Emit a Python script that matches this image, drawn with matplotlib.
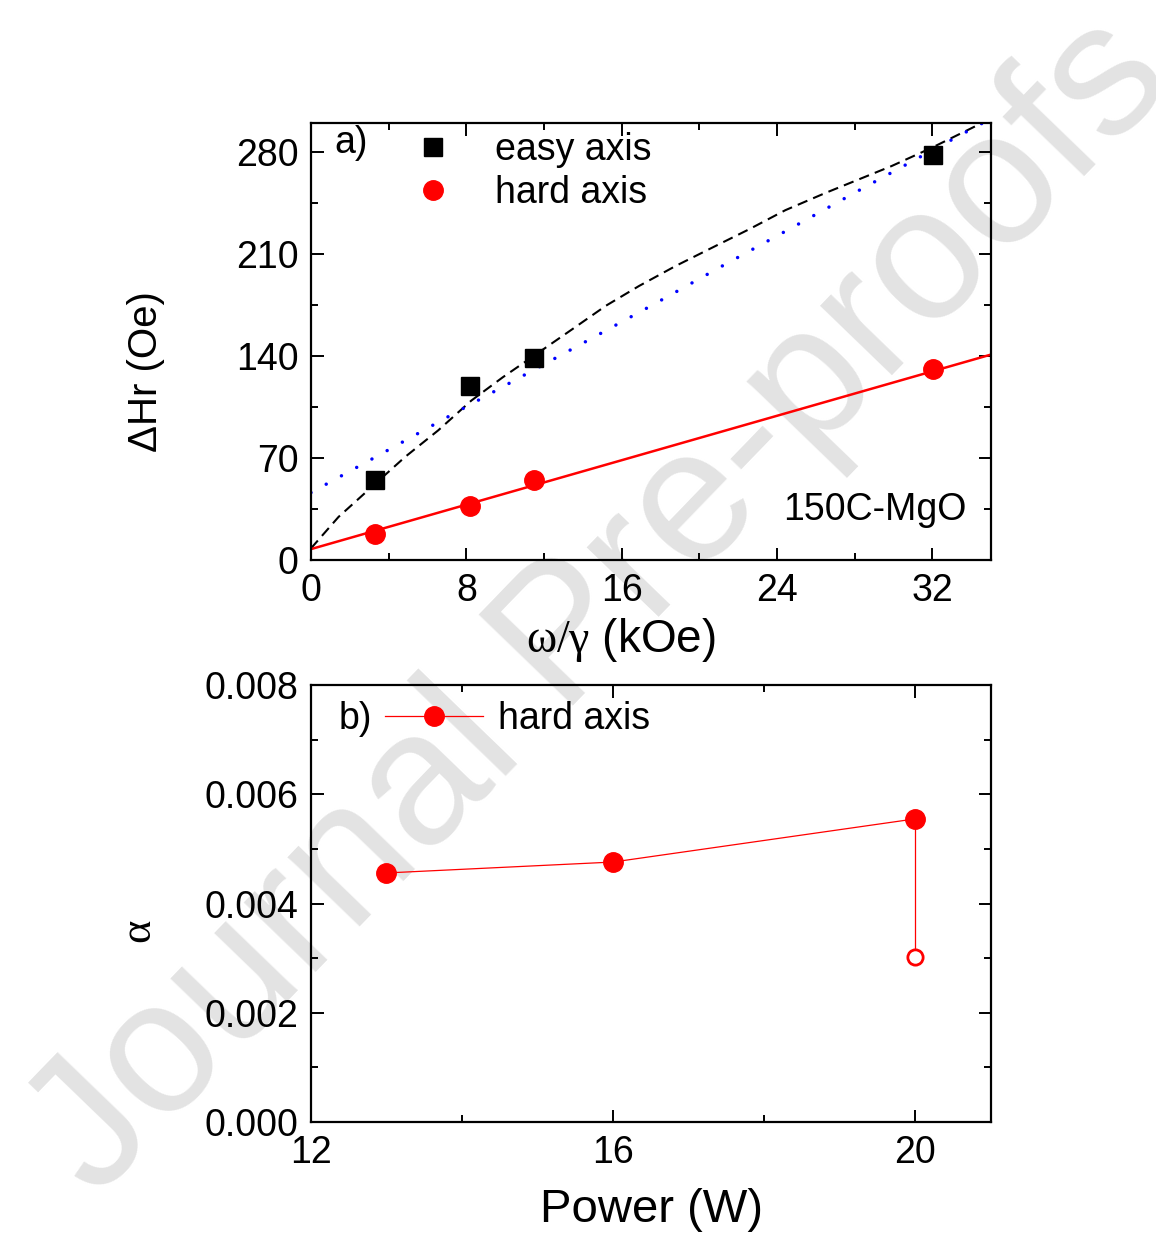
import matplotlib
matplotlib.use('Agg')
import matplotlib.pyplot as plt
from matplotlib.ticker import MultipleLocator

plt.rcParams['font.family'] = ['Liberation Sans', 'DejaVu Sans']
plt.rcParams['mathtext.fontset'] = 'custom'
plt.rcParams['mathtext.rm'] = 'Liberation Serif'

# panel a) linewidth vs frequency field
field_pts = [3.3, 8.2, 11.5, 32.05]
easy_dh = [54.8, 119.8, 139.0, 278.0]
hard_dh = [17.8, 37.0, 54.8, 131.4]

# fitted curves
easy_fit_x = [0, 1.42, 3.13, 4.84, 6.55, 8.26, 9.88, 11.5, 13.47, 15.19, 16.9, 18.78,
              20.83, 22.55, 24.43, 26.49, 29.9, 31.96, 35]
easy_fit_y = [8.0, 29.6, 50.2, 70.7, 89.0, 109.5, 125.5, 140.4, 158.6, 174.6, 188.2, 201.9,
              215.6, 227.0, 240.2, 252.0, 270.5, 283.0, 303.0]
blue_fit_x = [0, 3.54, 7.09, 10.6, 14.07, 17.67, 21.18, 24.73, 28.25, 31.8, 35]
blue_fit_y = [46.3, 72.3, 98.6, 124.2, 149.4, 175.7, 201.9, 227.9, 254.0, 279.9, 303.0]
hard_fit_x = [0, 35]
hard_fit_y = [7.5, 141.0]

# panel b) damping vs power
power = [13, 16, 20]
alpha = [0.00456, 0.00476, 0.00555]
alpha_open = 0.00302

fs = 27
fig = plt.figure(figsize=(11.56, 12.33), dpi=100)

fig.text(0.519, 0.508, 'Journal Pre-proofs', rotation=46, fontsize=136,
         color='#e3e3e3', ha='center', va='center', zorder=-1)

ax1 = fig.add_axes([0.269, 0.5458, 0.588, 0.3544])
ax2 = fig.add_axes([0.269, 0.0900, 0.588, 0.3544])
for ax in (ax1, ax2):
    ax.set_facecolor('none')
    for s in ax.spines.values():
        s.set_linewidth(1.6)
    ax.tick_params(which='both', direction='in', top=True, right=True,
                   labelsize=fs, width=1.4, pad=9)
    ax.tick_params(which='major', length=9)
    ax.tick_params(which='minor', length=5)

# --- panel a
ax1.plot(easy_fit_x, easy_fit_y, color='black', lw=1.5, linestyle=(0, (5, 3)))
ax1.plot(blue_fit_x, blue_fit_y, color='blue', lw=2.5, linestyle=(0, (0.01, 5)),
         dash_capstyle='round')
ax1.plot(hard_fit_x, hard_fit_y, color='red', lw=1.8)
ax1.plot(field_pts, easy_dh, 's', color='black', ms=13, label='easy axis', clip_on=False)
ax1.plot(field_pts, hard_dh, 'o', color='red', ms=14, label='hard axis', clip_on=False)
ax1.set_xlim(0, 35)
ax1.set_ylim(0, 300)
ax1.xaxis.set_major_locator(MultipleLocator(8))
ax1.xaxis.set_minor_locator(MultipleLocator(4))
ax1.yaxis.set_major_locator(MultipleLocator(70))
ax1.yaxis.set_minor_locator(MultipleLocator(35))
ax1.set_xlabel(r'$\mathrm{ω/γ}$ (kOe)', fontsize=33)
ax1.xaxis.set_label_coords(0.456, -0.128)
ax1.set_ylabel('ΔHr (Oe)', fontsize=29)
ax1.yaxis.set_label_coords(-0.215, 0.432)
ax1.legend(loc='upper left', bbox_to_anchor=(0.125, 0.979), frameon=False,
           fontsize=fs, handlelength=2.0, handletextpad=0.65, labelspacing=0.18,
           borderpad=0, borderaxespad=0)
ax1.text(0.035, 0.955, 'a)', transform=ax1.transAxes, fontsize=fs, va='center', ha='left')
ax1.text(0.965, 0.114, '150C-MgO', transform=ax1.transAxes, fontsize=fs, va='center', ha='right')

# --- panel b
ax2.plot(power, alpha, '-o', color='red', lw=0.9, ms=14, label='hard axis', clip_on=False)
ax2.plot([power[-1], power[-1]], [alpha[-1], alpha_open], '-', color='red', lw=0.9)
ax2.plot([power[-1]], [alpha_open], 'o', mfc='white', mec='red', mew=2, ms=11)
ax2.set_xlim(12, 21)
ax2.set_ylim(0, 0.008)
ax2.xaxis.set_major_locator(MultipleLocator(4))
ax2.xaxis.set_minor_locator(MultipleLocator(2))
ax2.yaxis.set_major_locator(MultipleLocator(0.002))
ax2.yaxis.set_minor_locator(MultipleLocator(0.001))
ax2.yaxis.set_major_formatter(lambda v, p: f'{v:.3f}')
ax2.set_xlabel('Power (W)', fontsize=34)
ax2.xaxis.set_label_coords(0.501, -0.152)
ax2.set_ylabel('α', fontsize=32, family='Liberation Serif')
ax2.yaxis.set_label_coords(-0.225, 0.439)
ax2.legend(loc='center left', bbox_to_anchor=(0.109, 0.922), frameon=False,
           fontsize=fs, handlelength=2.6, handletextpad=0.4,
           borderpad=0, borderaxespad=0)
ax2.text(0.04, 0.922, 'b)', transform=ax2.transAxes, fontsize=fs, va='center', ha='left')

fig.savefig('out.png', dpi=100)
